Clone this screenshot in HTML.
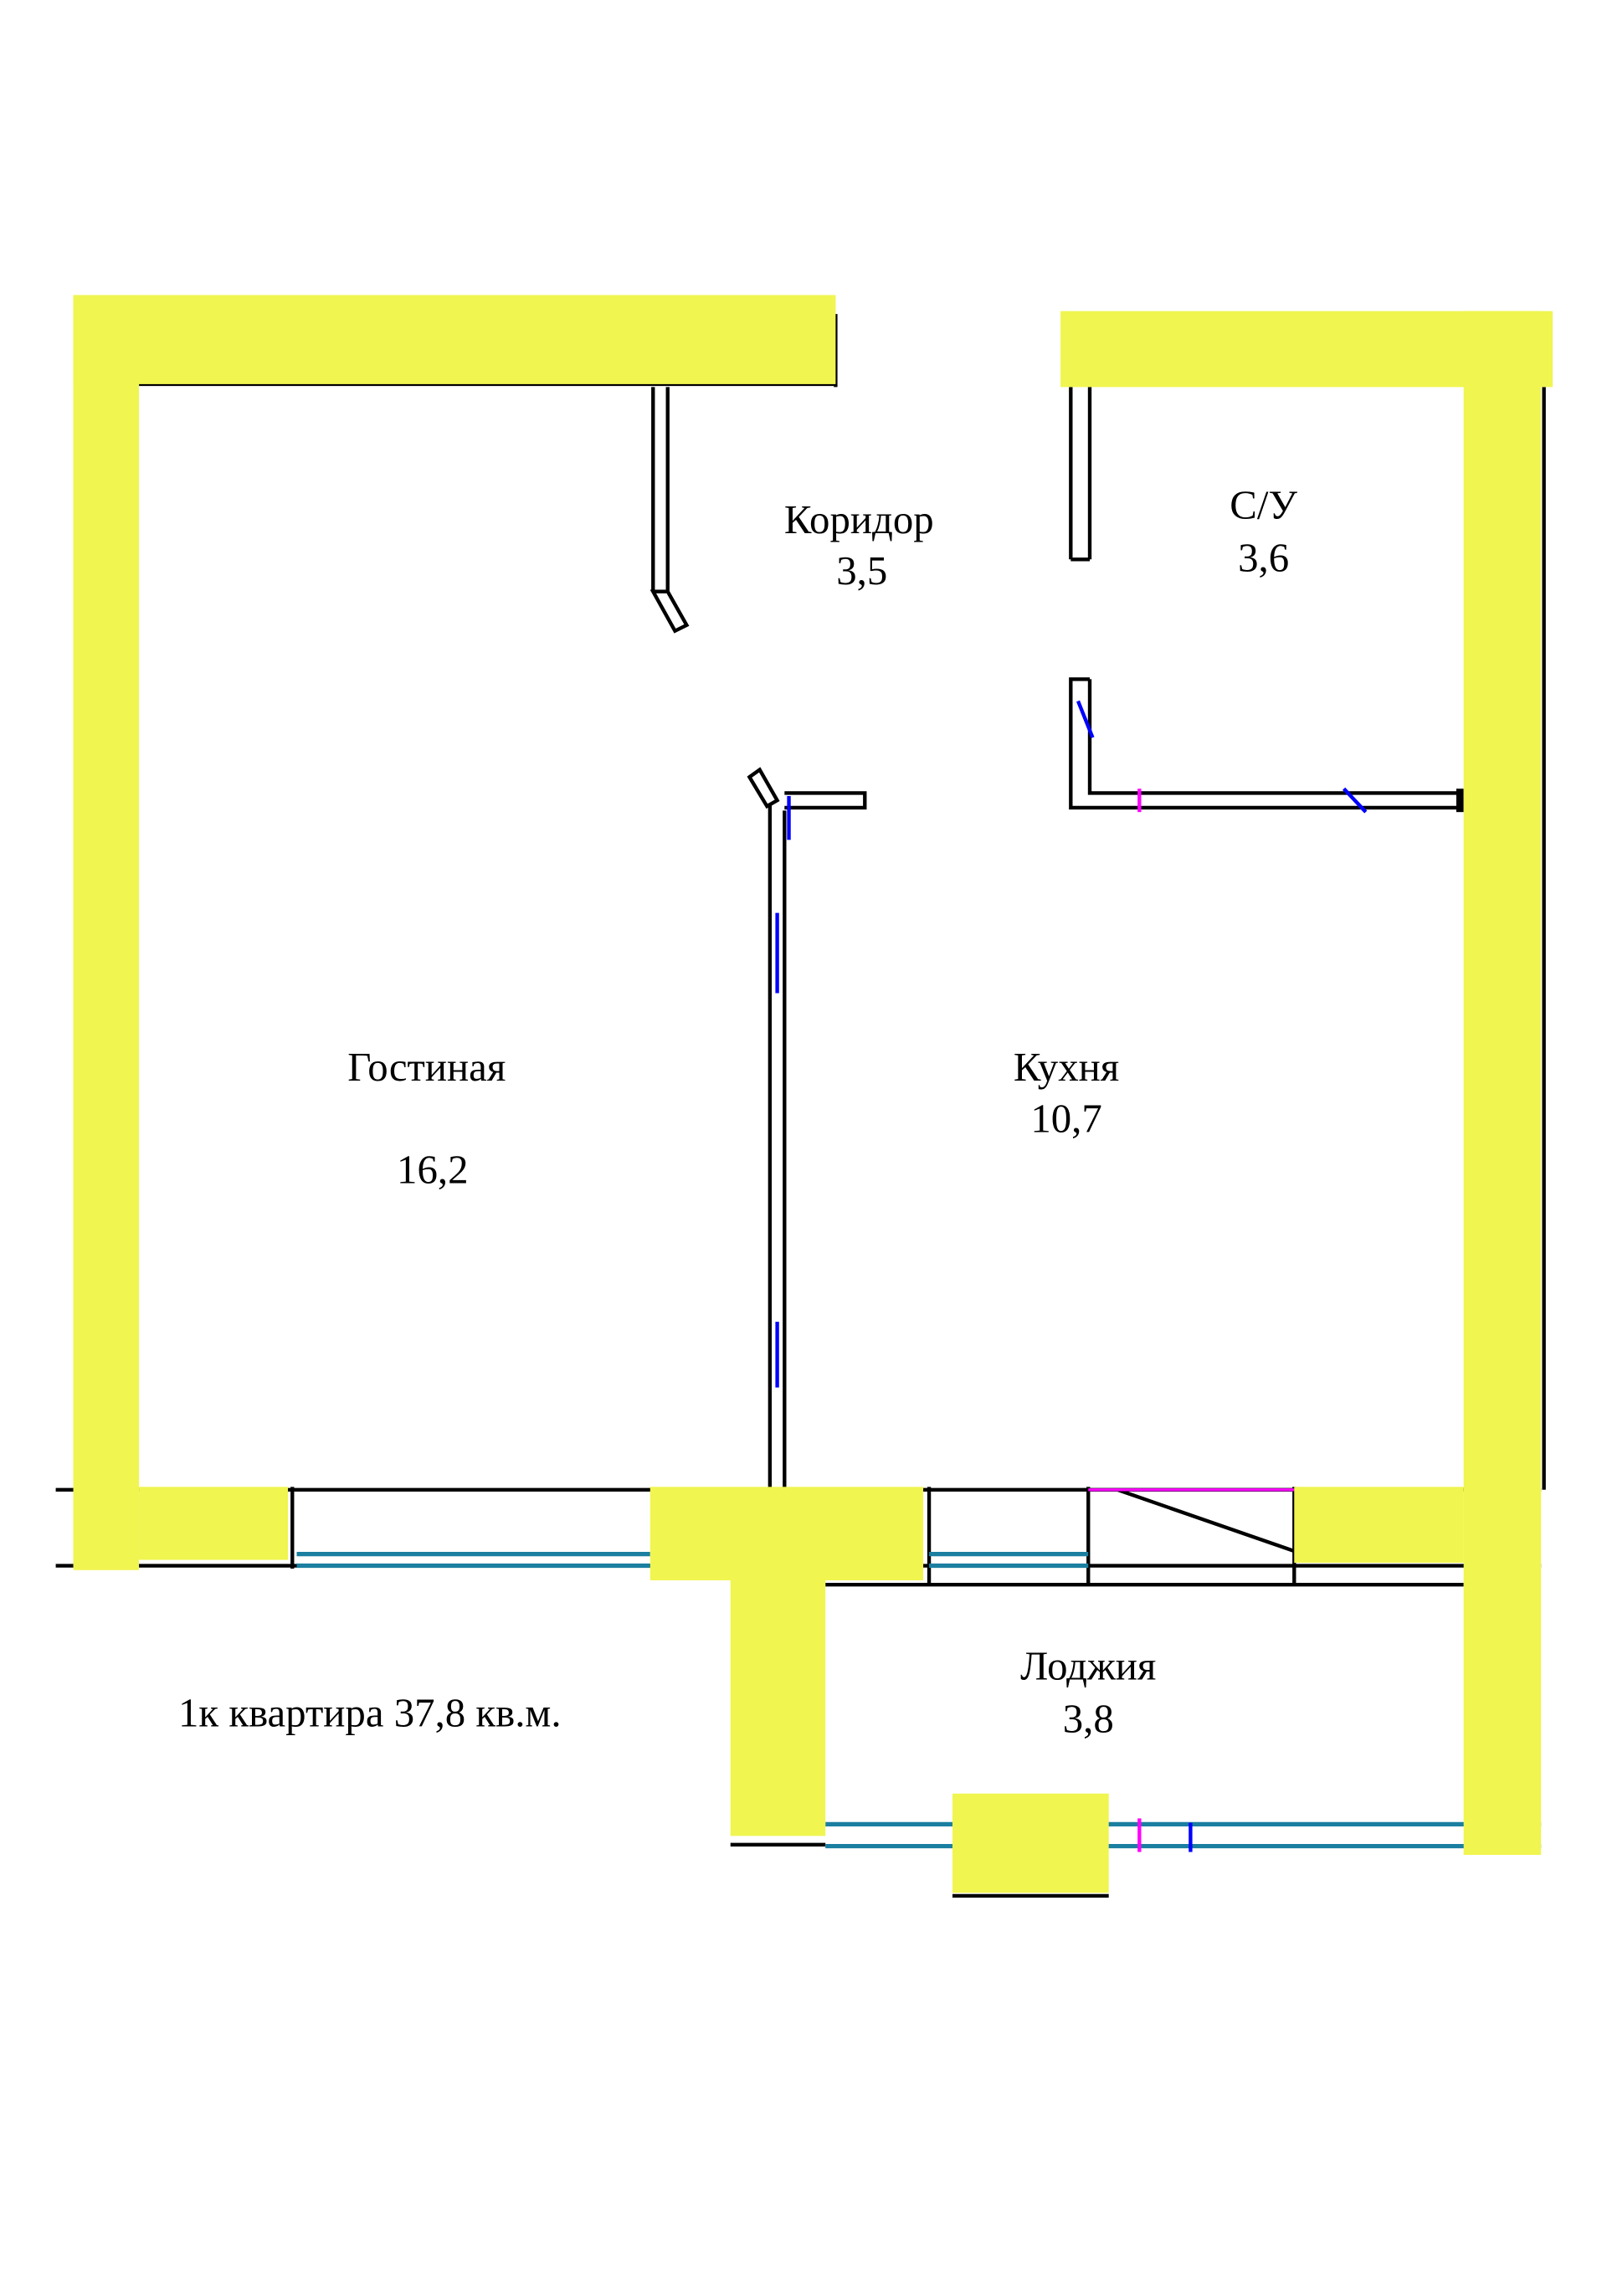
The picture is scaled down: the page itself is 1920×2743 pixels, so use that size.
<!DOCTYPE html>
<html><head><meta charset="utf-8"><style>html,body{margin:0;padding:0;background:#fff}svg{display:block}</style></head>
<body>
<svg width="1920" height="2743" viewBox="0 0 1100 1572" xmlns="http://www.w3.org/2000/svg">
<rect width="1100" height="1572" fill="#fff"/>
<g stroke="#000" stroke-width="2.5" fill="none">
<line x1="95" y1="263" x2="572" y2="263"/>
<line x1="572" y1="215" x2="572" y2="265"/>
<line x1="447" y1="265" x2="447" y2="405"/><line x1="457" y1="265" x2="457" y2="405"/>
<polygon points="447,405 457,405 470,428 462,432"/>
<line x1="527" y1="550" x2="527" y2="1020"/><line x1="537" y1="555" x2="537" y2="1020"/>
<polygon points="513,532 520,527 532,548 525,552"/>
<polyline points="537,543 592,543 592,553 537,553"/>
<line x1="733" y1="265" x2="733" y2="383"/><line x1="746" y1="265" x2="746" y2="383"/><line x1="733" y1="383" x2="746" y2="383"/>
<polyline points="746,465 733,465 733,553 1000,553"/>
<polyline points="746,465 746,543 1000,543"/>
<line x1="38" y1="1020" x2="1055" y2="1020"/>
<line x1="38" y1="1072" x2="1055" y2="1072"/>
<line x1="200" y1="1018" x2="200" y2="1074"/>
<line x1="636" y1="1018" x2="636" y2="1085"/>
<line x1="745" y1="1018" x2="745" y2="1085"/>
<line x1="886" y1="1018" x2="886" y2="1085"/>
<line x1="765" y1="1020" x2="886" y2="1062"/>
<line x1="565" y1="1085" x2="1002" y2="1085"/>
<line x1="500" y1="1263" x2="565" y2="1263"/>
<line x1="652" y1="1298" x2="759" y2="1298"/>
<line x1="1057" y1="265" x2="1057" y2="1020"/>
</g>
<rect x="997" y="540" width="5" height="16" fill="#000"/>
<line x1="745" y1="1020" x2="886" y2="1020" stroke="#f0f" stroke-width="2"/>
<g stroke="#1a7fa0" stroke-width="3">
<line x1="203" y1="1064" x2="445" y2="1064"/><line x1="203" y1="1072" x2="445" y2="1072"/>
<line x1="636" y1="1064" x2="745" y2="1064"/><line x1="636" y1="1072" x2="745" y2="1072"/>
<line x1="565" y1="1249" x2="1055" y2="1249"/><line x1="565" y1="1264" x2="1055" y2="1264"/>
</g>
<g stroke="#00f" stroke-width="2.5">
<line x1="532" y1="625" x2="532" y2="680"/><line x1="532" y1="905" x2="532" y2="950"/>
<line x1="540" y1="545" x2="540" y2="575"/><line x1="815" y1="1248" x2="815" y2="1268"/>
<line x1="920" y1="540" x2="935" y2="556"/><line x1="738" y1="480" x2="748" y2="505"/>
</g>
<g stroke="#f0f" stroke-width="2.5"><line x1="780" y1="540" x2="780" y2="556"/><line x1="780" y1="1245" x2="780" y2="1268"/></g>
<g fill="#f0f550">
<rect x="50" y="202" width="522" height="61"/>
<rect x="50" y="202" width="45" height="873"/>
<rect x="726" y="213" width="337" height="52"/>
<rect x="1002" y="213" width="53" height="1057"/>
<rect x="95" y="1018" width="102" height="50"/>
<rect x="445" y="1018" width="187" height="64"/>
<rect x="500" y="1082" width="65" height="175"/>
<rect x="652" y="1228" width="107" height="68"/>
<rect x="886" y="1018" width="116" height="52"/>
</g>
<g font-family="Liberation Serif, serif" font-size="28" fill="#000" text-anchor="middle">
<text x="588" y="365">Коридор</text><text x="590" y="400">3,5</text>
<text x="865" y="355">С/У</text><text x="865" y="391">3,6</text>
<text x="292" y="740">Гостиная</text><text x="296" y="810">16,2</text>
<text x="730" y="740">Кухня</text><text x="730" y="775">10,7</text>
<text x="745" y="1150">Лоджия</text><text x="745" y="1186">3,8</text>
<text x="253" y="1182">1к квартира 37,8 кв.м.</text>
</g>
</svg>
</body></html>
